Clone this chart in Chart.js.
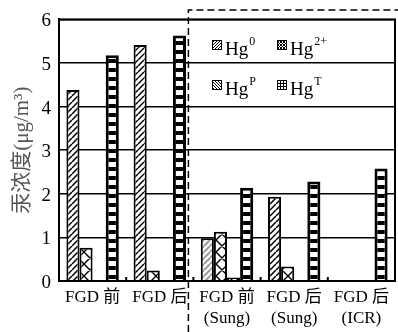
<!DOCTYPE html>
<html>
<head>
<meta charset="utf-8">
<script src="https://cdn.jsdelivr.net/npm/chart.js@4/dist/chart.umd.min.js"></script>
<style>
  html, body { margin: 0; padding: 0; background: #fff; }
  canvas { display: block; }
</style>
</head>
<body>
<canvas id="chart" width="398" height="332"></canvas>
<script>
// Mercury speciation before / after FGD

const categories = [["FGD 前"], ["FGD 后"], ["FGD 前", "(Sung)"], ["FGD 后", "(Sung)"], ["FGD 后", "(ICR)"]];
const hg0 = [4.38, 5.41, 0.98, 1.93, null];
const hg2 = [0.76, 0.24, 1.13, 0.33, null];
const hgP = [null, null, 0.08, null, null];
const hgT = [5.18, 5.63, 2.14, 2.28, 2.58];
const seriesSup = ["0", "2+", "P", "T"];
const yTicks = [0, 1, 2, 3, 4, 5, 6];
const yTitle = "汞浓度(μg/m³)";

const FONT = "'Liberation Serif', 'Times New Roman', 'Noto Sans CJK SC', serif";

// hatch tile used as a bar fill
function hatch(kind, color, size, lw) {
    const c = document.createElement("canvas");
    c.width = size; c.height = size;
    const g = c.getContext("2d");
    g.fillStyle = "#fff";
    g.fillRect(0, 0, size, size);
    g.strokeStyle = color;
    g.lineWidth = lw;
    g.beginPath();
    for (const off of [-size, 0, size]) {
        if (kind === "/" || kind === "x") { g.moveTo(off, size); g.lineTo(off + size, 0); }
        if (kind === "\\" || kind === "x") { g.moveTo(off, 0); g.lineTo(off + size, size); }
    }
    g.stroke();
    return g.createPattern(c, "repeat");
}

// ladder fill for the total bars: white windows, black rungs
function ladder() {
    const c = document.createElement("canvas");
    c.width = 4; c.height = 9;
    const g = c.getContext("2d");
    g.fillStyle = "#fff";
    g.fillRect(0, 0, 4, 5);
    g.fillStyle = "#000";
    g.fillRect(0, 5, 4, 4);
    return g.createPattern(c, "repeat");
}

const ctx = document.getElementById("chart").getContext("2d");
const fill0 = hatch("/", "#000", 6, 1.5);
const fill0Gray = hatch("/", "#9a9a9a", 6, 2);
const fill2 = hatch("x", "#000", 12, 1.4);
const fillP = hatch("\\", "#000", 6, 1.5);
const fillT = ladder();

// outer frame, dashed box and small boundary ticks
const framePlugin = {
    id: "frame",
    afterDraw(chart) {
        const c = chart.ctx, a = chart.chartArea, x = chart.scales.x;
        const step = x.getPixelForValue(1) - x.getPixelForValue(0);
        c.save();
        c.strokeStyle = "#000";
        c.lineWidth = 2;
        c.strokeRect(a.left, a.top, a.right - a.left, a.bottom - a.top);
        c.fillStyle = "#000";
        for (let i = 1; i < categories.length; i++) {
            const bx = x.getPixelForValue(i) - step / 2;
            c.fillRect(bx - 1, a.bottom - 4, 2, 3);
        }
        const dx = x.getPixelForValue(2) - step / 2 - 5;
        c.lineWidth = 1.5;
        c.setLineDash([7, 4]);
        c.beginPath();
        c.moveTo(dx, chart.height);
        c.lineTo(dx, 10);
        c.lineTo(chart.width, 10);
        c.stroke();
        c.restore();
    }
};

// legend in two rows inside the plot
const legendPlugin = {
    id: "hgLegend",
    afterDraw(chart) {
        const c = chart.ctx;
        const spots = [[212, 40], [277, 40], [212, 80], [277, 80]];
        const kinds = ["/", "x", "\\", "grid"];
        chart.data.datasets.forEach((ds, i) => {
            const [sx, sy] = spots[i];
            c.save();
            c.fillStyle = "#fff";
            c.fillRect(sx, sy, 10, 10);
            c.beginPath();
            c.rect(sx, sy, 10, 10);
            c.clip();
            c.strokeStyle = "#000";
            c.lineWidth = 1;
            c.beginPath();
            if (kinds[i] === "grid") {
                for (let k = 0; k <= 10; k += 3) {
                    c.moveTo(sx + k + 0.5, sy); c.lineTo(sx + k + 0.5, sy + 10);
                    c.moveTo(sx, sy + k + 0.5); c.lineTo(sx + 10, sy + k + 0.5);
                }
            } else {
                for (let k = -10; k <= 10; k += 3) {
                    if (kinds[i] === "/" || kinds[i] === "x") { c.moveTo(sx + k, sy + 10); c.lineTo(sx + k + 10, sy); }
                    if (kinds[i] === "\\" || kinds[i] === "x") { c.moveTo(sx + k, sy); c.lineTo(sx + k + 10, sy + 10); }
                }
            }
            c.stroke();
            c.restore();
            c.save();
            c.strokeStyle = "#000";
            c.lineWidth = 1;
            c.strokeRect(sx + 0.5, sy + 0.5, 9, 9);
            c.fillStyle = "#000";
            c.textBaseline = "alphabetic";
            c.font = "19px " + FONT;
            c.fillText("Hg", sx + 13, sy + 15);
            const w = c.measureText("Hg").width;
            c.font = "12px " + FONT;
            c.fillText(seriesSup[i], sx + 13 + w + 1, sy + 5);
            c.restore();
        });
    }
};

new Chart(ctx, {
    type: "bar",
    data: {
        labels: categories,
        datasets: [
            { label: "Hg0", data: hg0, backgroundColor: hg0.map((v, i) => i === 2 ? fill0Gray : fill0), borderColor: "#000", borderWidth: 2 },
            { label: "Hg2+", data: hg2, backgroundColor: fill2, borderColor: "#000", borderWidth: 2 },
            { label: "HgP", data: hgP, backgroundColor: fillP, borderColor: "#000", borderWidth: 2 },
            { label: "HgT", data: hgT, backgroundColor: fillT, borderColor: "#000", borderWidth: 3 }
        ]
    },
    options: {
        responsive: false,
        animation: false,
        devicePixelRatio: 1,
        layout: { padding: { top: 17, right: 3, left: 0, bottom: 0 } },
        datasets: { bar: { categoryPercentage: 0.78, barPercentage: 1 } },
        plugins: { legend: { display: false }, tooltip: { enabled: false } },
        scales: {
            x: {
                grid: { display: false, drawTicks: false },
                border: { color: "#000", width: 2 },
                ticks: { color: "#000", font: { family: FONT, size: 17, lineHeight: 1.25 }, padding: 6, maxRotation: 0, autoSkip: false },
                afterFit: s => { s.height = 51; }
            },
            y: {
                min: 0,
                max: 6,
                afterBuildTicks: s => { s.ticks = yTicks.map(v => ({ value: v })); },
                ticks: { color: "#000", font: { family: FONT, size: 19 }, padding: 8, labelOffset: 2 },
                grid: { color: "#000", lineWidth: 1.5, drawTicks: false },
                border: { color: "#000", width: 2 },
                title: { display: true, text: yTitle, color: "#555", font: { family: FONT, size: 21, lineHeight: 1.2 }, padding: { top: 10, bottom: 0 } },
                afterFit: s => { s.width = 59; }
            }
        }
    },
    plugins: [framePlugin, legendPlugin]
});
</script>
</body>
</html>
